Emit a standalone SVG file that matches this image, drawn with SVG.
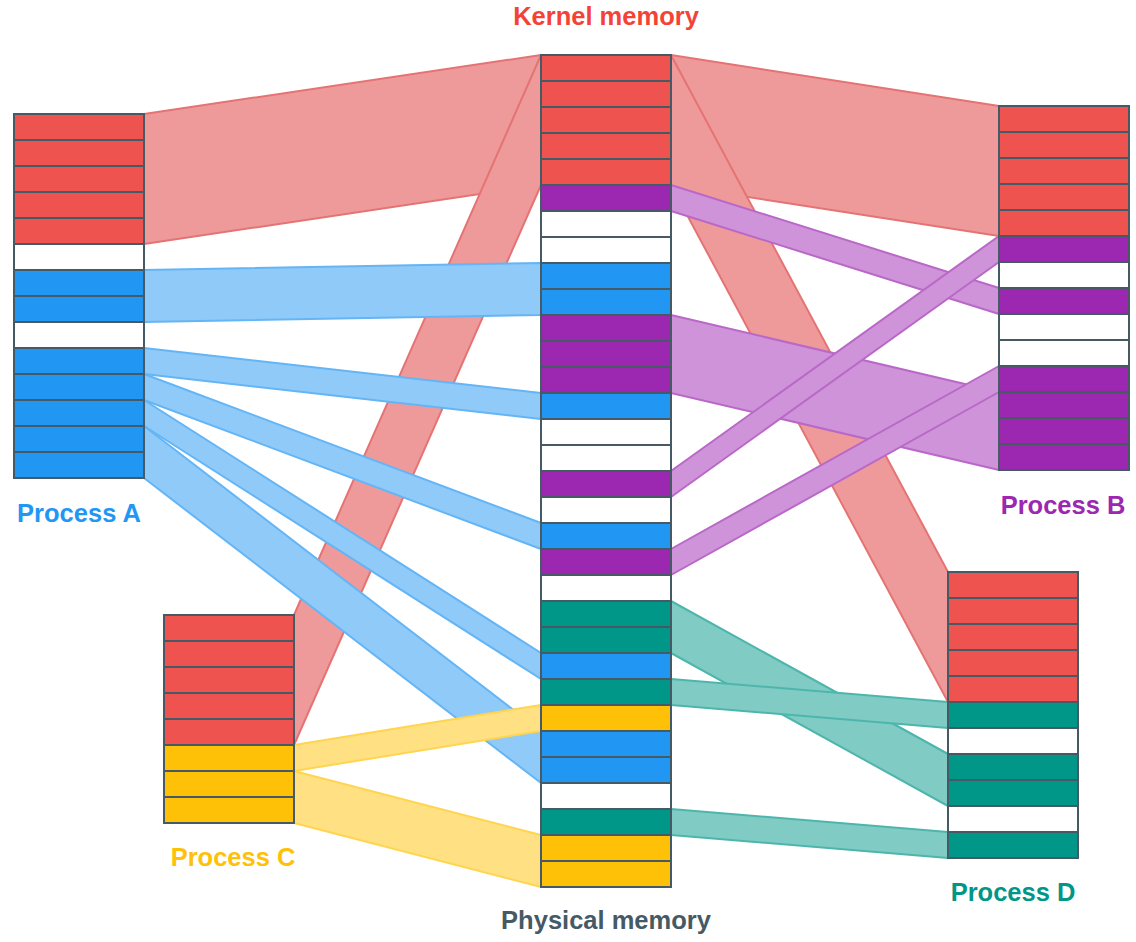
<svg xmlns="http://www.w3.org/2000/svg" width="1136" height="942" viewBox="0 0 1136 942">
<style>
.c rect{stroke:#455A64;stroke-width:2}
.r{fill:#EF5350}.b{fill:#2196F3}.p{fill:#9C27B0}.t{fill:#009688}.y{fill:#FFC107}.w{fill:#FFFFFF}
.br{fill:#EF9A9A;stroke:#E57373}.bb{fill:#90CAF9;stroke:#64B5F6}.bp{fill:#CE93D8;stroke:#BA68C8}.bt{fill:#80CBC4;stroke:#4DB6AC}.by{fill:#FFE082;stroke:#FFD54F}
#links polygon{stroke-width:2;stroke-linejoin:round}
text{font-family:"Liberation Sans",Arial,Helvetica,sans-serif;font-weight:bold;font-size:25.5px;text-anchor:middle}
</style>
<rect width="1136" height="942" fill="#FFFFFF"/>
<g id="links">
<polygon class="br" points="144,114 541,55 541,185 144,244"/>
<polygon class="br" points="671,55 999,106 999,236 671,185"/>
<polygon class="br" points="294,615 541,55 541,185 294,745"/>
<polygon class="br" points="671,55 948,572 948,702 671,185"/>
<polygon class="bb" points="144,270 541,263 541,315 144,322"/>
<polygon class="bb" points="144,348 541,393 541,419 144,374"/>
<polygon class="bb" points="144,374 541,523 541,549 144,400"/>
<polygon class="bb" points="144,400 541,653 541,679 144,426"/>
<polygon class="bb" points="144,426 541,731 541,783 144,478"/>
<polygon class="bp" points="671,185 999,288 999,314 671,211"/>
<polygon class="bp" points="671,315 999,392 999,470 671,393"/>
<polygon class="bp" points="671,471 999,236 999,262 671,497"/>
<polygon class="bp" points="671,549 999,366 999,392 671,575"/>
<polygon class="bt" points="671,601 948,754 948,806 671,653"/>
<polygon class="bt" points="671,679 948,702 948,728 671,705"/>
<polygon class="bt" points="671,809 948,832 948,858 671,835"/>
<polygon class="by" points="294,745 541,705 541,731 294,771"/>
<polygon class="by" points="294,771 541,835 541,887 294,823"/>
</g>
<g id="physical" class="c">
<rect class="r" x="541" y="55" width="130" height="26"/>
<rect class="r" x="541" y="81" width="130" height="26"/>
<rect class="r" x="541" y="107" width="130" height="26"/>
<rect class="r" x="541" y="133" width="130" height="26"/>
<rect class="r" x="541" y="159" width="130" height="26"/>
<rect class="p" x="541" y="185" width="130" height="26"/>
<rect class="w" x="541" y="211" width="130" height="26"/>
<rect class="w" x="541" y="237" width="130" height="26"/>
<rect class="b" x="541" y="263" width="130" height="26"/>
<rect class="b" x="541" y="289" width="130" height="26"/>
<rect class="p" x="541" y="315" width="130" height="26"/>
<rect class="p" x="541" y="341" width="130" height="26"/>
<rect class="p" x="541" y="367" width="130" height="26"/>
<rect class="b" x="541" y="393" width="130" height="26"/>
<rect class="w" x="541" y="419" width="130" height="26"/>
<rect class="w" x="541" y="445" width="130" height="26"/>
<rect class="p" x="541" y="471" width="130" height="26"/>
<rect class="w" x="541" y="497" width="130" height="26"/>
<rect class="b" x="541" y="523" width="130" height="26"/>
<rect class="p" x="541" y="549" width="130" height="26"/>
<rect class="w" x="541" y="575" width="130" height="26"/>
<rect class="t" x="541" y="601" width="130" height="26"/>
<rect class="t" x="541" y="627" width="130" height="26"/>
<rect class="b" x="541" y="653" width="130" height="26"/>
<rect class="t" x="541" y="679" width="130" height="26"/>
<rect class="y" x="541" y="705" width="130" height="26"/>
<rect class="b" x="541" y="731" width="130" height="26"/>
<rect class="b" x="541" y="757" width="130" height="26"/>
<rect class="w" x="541" y="783" width="130" height="26"/>
<rect class="t" x="541" y="809" width="130" height="26"/>
<rect class="y" x="541" y="835" width="130" height="26"/>
<rect class="y" x="541" y="861" width="130" height="26"/>
</g>
<g id="processA" class="c">
<rect class="r" x="14" y="114" width="130" height="26"/>
<rect class="r" x="14" y="140" width="130" height="26"/>
<rect class="r" x="14" y="166" width="130" height="26"/>
<rect class="r" x="14" y="192" width="130" height="26"/>
<rect class="r" x="14" y="218" width="130" height="26"/>
<rect class="w" x="14" y="244" width="130" height="26"/>
<rect class="b" x="14" y="270" width="130" height="26"/>
<rect class="b" x="14" y="296" width="130" height="26"/>
<rect class="w" x="14" y="322" width="130" height="26"/>
<rect class="b" x="14" y="348" width="130" height="26"/>
<rect class="b" x="14" y="374" width="130" height="26"/>
<rect class="b" x="14" y="400" width="130" height="26"/>
<rect class="b" x="14" y="426" width="130" height="26"/>
<rect class="b" x="14" y="452" width="130" height="26"/>
</g>
<g id="processB" class="c">
<rect class="r" x="999" y="106" width="130" height="26"/>
<rect class="r" x="999" y="132" width="130" height="26"/>
<rect class="r" x="999" y="158" width="130" height="26"/>
<rect class="r" x="999" y="184" width="130" height="26"/>
<rect class="r" x="999" y="210" width="130" height="26"/>
<rect class="p" x="999" y="236" width="130" height="26"/>
<rect class="w" x="999" y="262" width="130" height="26"/>
<rect class="p" x="999" y="288" width="130" height="26"/>
<rect class="w" x="999" y="314" width="130" height="26"/>
<rect class="w" x="999" y="340" width="130" height="26"/>
<rect class="p" x="999" y="366" width="130" height="26"/>
<rect class="p" x="999" y="392" width="130" height="26"/>
<rect class="p" x="999" y="418" width="130" height="26"/>
<rect class="p" x="999" y="444" width="130" height="26"/>
</g>
<g id="processC" class="c">
<rect class="r" x="164" y="615" width="130" height="26"/>
<rect class="r" x="164" y="641" width="130" height="26"/>
<rect class="r" x="164" y="667" width="130" height="26"/>
<rect class="r" x="164" y="693" width="130" height="26"/>
<rect class="r" x="164" y="719" width="130" height="26"/>
<rect class="y" x="164" y="745" width="130" height="26"/>
<rect class="y" x="164" y="771" width="130" height="26"/>
<rect class="y" x="164" y="797" width="130" height="26"/>
</g>
<g id="processD" class="c">
<rect class="r" x="948" y="572" width="130" height="26"/>
<rect class="r" x="948" y="598" width="130" height="26"/>
<rect class="r" x="948" y="624" width="130" height="26"/>
<rect class="r" x="948" y="650" width="130" height="26"/>
<rect class="r" x="948" y="676" width="130" height="26"/>
<rect class="t" x="948" y="702" width="130" height="26"/>
<rect class="w" x="948" y="728" width="130" height="26"/>
<rect class="t" x="948" y="754" width="130" height="26"/>
<rect class="t" x="948" y="780" width="130" height="26"/>
<rect class="w" x="948" y="806" width="130" height="26"/>
<rect class="t" x="948" y="832" width="130" height="26"/>
</g>
<g id="labels">
<text x="606" y="25" fill="#F44336">Kernel memory</text>
<text x="79" y="522" fill="#2196F3">Process A</text>
<text x="1063" y="514" fill="#9C27B0">Process B</text>
<text x="233" y="866" fill="#FFC107">Process C</text>
<text x="1013" y="901" fill="#009688">Process D</text>
<text x="606" y="929" fill="#455A64">Physical memory</text>
</g>
</svg>
